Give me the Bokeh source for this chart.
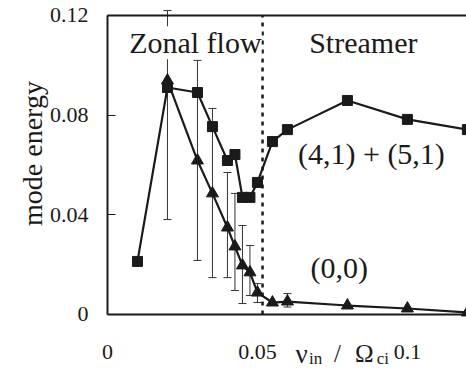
from bokeh.plotting import figure
from bokeh.models import (ColumnDataSource, Range1d, FixedTicker, Label,
                          Whisker, TeeHead, LinearAxis)
from bokeh.embed import file_html
from bokeh.resources import INLINE

# ---- data ----
x_sq = [0.01, 0.02, 0.03, 0.035, 0.04, 0.0425, 0.045, 0.0475, 0.05, 0.055, 0.06, 0.08, 0.1, 0.12]
y_sq = [0.0213, 0.0911, 0.0891, 0.0754, 0.0618, 0.0642, 0.047, 0.047, 0.053, 0.0694, 0.0742, 0.0859, 0.0783, 0.0742]

x_tri = [0.02, 0.03, 0.035, 0.04, 0.0425, 0.045, 0.0475, 0.05, 0.055, 0.06, 0.08, 0.1, 0.12]
y_tri = [0.0939, 0.0618, 0.0486, 0.0349, 0.0273, 0.0197, 0.0169, 0.0088, 0.0048, 0.0052, 0.0036, 0.0024, 0.0008]

err_x = [0.02, 0.03, 0.035, 0.04, 0.0425, 0.045, 0.0475, 0.05, 0.06]
err_lo = [0.0381, 0.0217, 0.0148, 0.0148, 0.0096, 0.0044, 0.0076, 0.0048, 0.003]
err_hi = [0.122, 0.102, 0.0827, 0.057, 0.0486, 0.0357, 0.0277, 0.0124, 0.0084]

boundary_x = 0.0517

x_ticks = [0, 0.05, 0.1]
x_tick_labels = ["0", "0.05", "0.1"]
y_ticks = [0, 0.04, 0.08, 0.12]
y_tick_labels = ["0", "0.04", "0.08", "0.12"]
x_max = 0.1197

FONT = "Liberation Serif"
INK = "#1a1a1a"

p = figure(width=466, height=380, output_backend="svg", toolbar_location=None, title=None,
           x_range=Range1d(-0.035667, x_max), y_range=Range1d(-0.02649, 0.12602),
           min_border=0, min_border_left=0, min_border_right=0,
           min_border_top=0, min_border_bottom=0)
p.outline_line_color = None
p.xgrid.visible = False
p.ygrid.visible = False
p.background_fill_color = "white"
p.border_fill_color = "white"

# axes (fixed in data space so the frame can hold the outside labels)
xa = p.xaxis[0]
xa.fixed_location = 0
xa.bounds = (0, x_max)
xa.ticker = FixedTicker(ticks=x_ticks)
xa.major_label_overrides = {t: l for t, l in zip(x_ticks, x_tick_labels)}
xa.major_tick_line_color = None
xa.minor_tick_line_color = None
xa.major_tick_in = 0
xa.major_tick_out = 0
xa.major_label_standoff = 31
xa.major_label_text_font = FONT
xa.major_label_text_font_size = "22px"
xa.major_label_text_color = INK
xa.axis_line_width = 2
xa.axis_line_color = INK

ya = p.yaxis[0]
ya.fixed_location = 0
ya.bounds = (0, 0.12)
ya.ticker = FixedTicker(ticks=y_ticks)
ya.major_label_overrides = {t: l for t, l in zip(y_ticks, y_tick_labels)}
ya.minor_tick_line_color = None
ya.major_tick_in = 8
ya.major_tick_out = 0
ya.major_tick_line_width = 1
ya.major_tick_line_color = INK
ya.major_label_standoff = 19
ya.major_label_text_font = FONT
ya.major_label_text_font_size = "22px"
ya.major_label_text_color = INK
ya.axis_line_width = 2
ya.axis_line_color = INK

top = LinearAxis(fixed_location=y_ticks[-1], bounds=(0, x_max),
                 major_tick_line_color=None, minor_tick_line_color=None,
                 major_tick_in=0, major_tick_out=0, major_label_standoff=0,
                 major_label_text_font_size="0px", axis_line_width=2, axis_line_color=INK,
                 ticker=FixedTicker(ticks=[]))
p.add_layout(top, "above")

# regime boundary (dotted)
p.segment(x0=[boundary_x], y0=[y_ticks[0]], x1=[boundary_x], y1=[y_ticks[-1]],
          line_color=INK, line_width=2.5, line_dash="4 5")

# error bars
esrc = ColumnDataSource(dict(x=err_x, lo=err_lo, hi=err_hi))
wk = Whisker(base="x", lower="lo", upper="hi", source=esrc, line_color="#333333", line_width=1,
             lower_head=TeeHead(size=8, line_color="#333333", line_width=1),
             upper_head=TeeHead(size=8, line_color="#333333", line_width=1))
p.add_layout(wk)

# series
p.line(x_tri, y_tri, line_color=INK, line_width=2.2)
p.scatter(x_tri, y_tri, marker="triangle", size=12, fill_color=INK, line_color=INK)
p.line(x_sq, y_sq, line_color=INK, line_width=2.2)
p.scatter(x_sq, y_sq, marker="square", size=10, fill_color=INK, line_color=INK)

def lab(x, y, t, size, align="left", bg=None, **kw):
    L = Label(x=x, y=y, text=t, text_font=FONT, text_font_size=size, text_color=INK,
              text_align=align, text_baseline="alphabetic", **kw)
    if bg:
        L.background_fill_color = bg
    p.add_layout(L)

lab(0.0293, 0.1091, "Zonal flow", "30px", "center", bg="white")
lab(0.0853, 0.1091, "Streamer", "30px", "center")
lab(0.088, 0.0646, "(4,1) + (5,1)", "30px", "center")
lab(0.0773, 0.0188, "(0,0)", "30px", "center")

# y axis title
p.add_layout(Label(x=-0.0250, y=0.0646, text="mode energy", text_font=FONT, text_font_size="28px",
                   text_color=INK, angle=1.5708, text_align="center", text_baseline="middle"))

# x axis title: nu_in / Omega_ci
lab(0.0627, -0.0157, "ν", "27px")
lab(0.0672, -0.0175, "in", "17px")
lab(0.0755, -0.0157, "/", "25px")
lab(0.0825, -0.0157, "Ω", "25px")
lab(0.0898, -0.0175, "ci", "17px")

open("out.html", "w").write(file_html(p, INLINE))
